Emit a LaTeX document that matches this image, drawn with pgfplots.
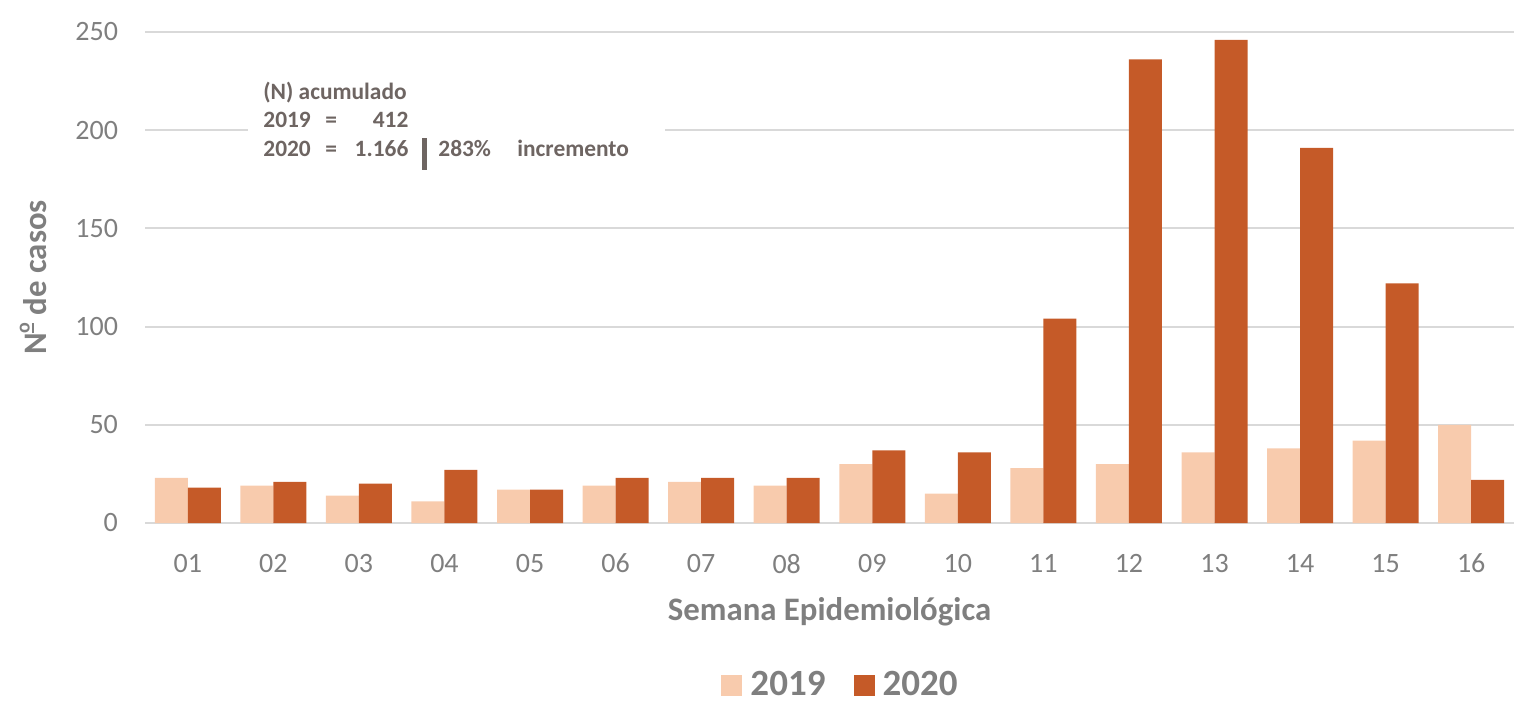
\documentclass[border=0pt]{standalone}
\usepackage{fontspec}
\setmainfont{Carlito}
\usepackage{pgfplots}
\pgfplotsset{compat=1.18}
\definecolor{c19}{HTML}{F8CBAD}
\definecolor{c20}{HTML}{C55A28}
\definecolor{tickc}{HTML}{7F7F7F}
\definecolor{gridc}{HTML}{D9D9D9}
\definecolor{annc}{HTML}{6E6562}
\newcommand{\ordo}{\raisebox{0.36em}{\fontsize{10}{10}\selectfont\setbox0\hbox{o}\vbox{\hbox{o}\kern1pt\hrule height 1.3pt width \wd0}}}
\begin{document}
\begin{tikzpicture}
\path[use as bounding box] (0pt,0pt) rectangle (757pt,351.5pt);
\begin{axis}[
  at={(72.5pt,90pt)}, anchor=south west,
  width=684.5pt, height=245.5pt, scale only axis,
  xmin=-0.5, xmax=15.5, ymin=0, ymax=250,
  axis line style={draw=none},
  major tick length=0pt,
  ytick={0,50,...,250},
  xtick={0,...,15},
  xticklabels={01,02,03,04,05,06,07,08,09,10,11,12,13,14,15,16},
  ymajorgrids, grid style={draw=gridc, line width=1pt},
  /pgf/number format/assume math mode=true,
  tick label style={font=\fontsize{14}{14}\selectfont, text=tickc},
  yticklabel style={anchor=east, xshift=-10pt},
  xticklabel style={anchor=north, yshift=-12pt},
  xlabel={Semana Epidemiológica},
  ylabel={N\ordo{} de casos},
  label style={font=\bfseries\fontsize{16.4}{16.4}\selectfont, text=tickc},
  xlabel style={at={(axis description cs:0.5,0)}, anchor=center, yshift=-44.5pt},
  ylabel style={at={(axis description cs:-0.0818,0.5)}, anchor=center},
  ybar=0pt, bar width=16.5pt,
  legend columns=2,
  legend style={at={(axis description cs:0.5,0)}, anchor=center, yshift=-81pt, xshift=6pt,
    draw=none, fill=none, font=\bfseries\fontsize{18.5}{18.5}\selectfont, text=tickc,
    /tikz/every odd column/.append style={column sep=2pt},
    /tikz/every even column/.append style={column sep=12pt}},
  legend image code/.code={\fill[#1] (0pt,-5.25pt) rectangle (10.5pt,5.25pt);},
]
\addplot[fill=c19, draw=none] coordinates {
 (0,23) (1,19) (2,14) (3,11) (4,17) (5,19) (6,21) (7,19)
 (8,30) (9,15) (10,28) (11,30) (12,36) (13,38) (14,42) (15,50)};
\addplot[fill=c20, draw=none] coordinates {
 (0,18) (1,21) (2,20) (3,27) (4,17) (5,23) (6,23) (7,23)
 (8,37) (9,36) (10,104) (11,236) (12,246) (13,191) (14,122) (15,22)};
\legend{2019,2020}
\fill[white] (axis cs:0.704,177) rectangle (axis cs:5.578,228);
\begin{scope}[every node/.style={inner sep=0pt, anchor=base west, text=annc,
   font=\bfseries\fontsize{11.7}{11.7}\selectfont}]
\node at (axis cs:0.879,215.4) {(N) acumulado};
\node at (axis cs:0.879,201.6) {\makebox[31pt][l]{2019}\makebox[10pt][l]{=}\makebox[31.5pt][r]{412}};
\node at (axis cs:0.879,186.4) {\makebox[31pt][l]{2020}\makebox[10pt][l]{=}\makebox[31.5pt][r]{1.166}\hspace{7pt}\rule[-6.5pt]{2.5pt}{16pt}\hspace{5.5pt}\makebox[39.5pt][l]{283\%}incremento};
\end{scope}
\end{axis}
\end{tikzpicture}
\end{document}
